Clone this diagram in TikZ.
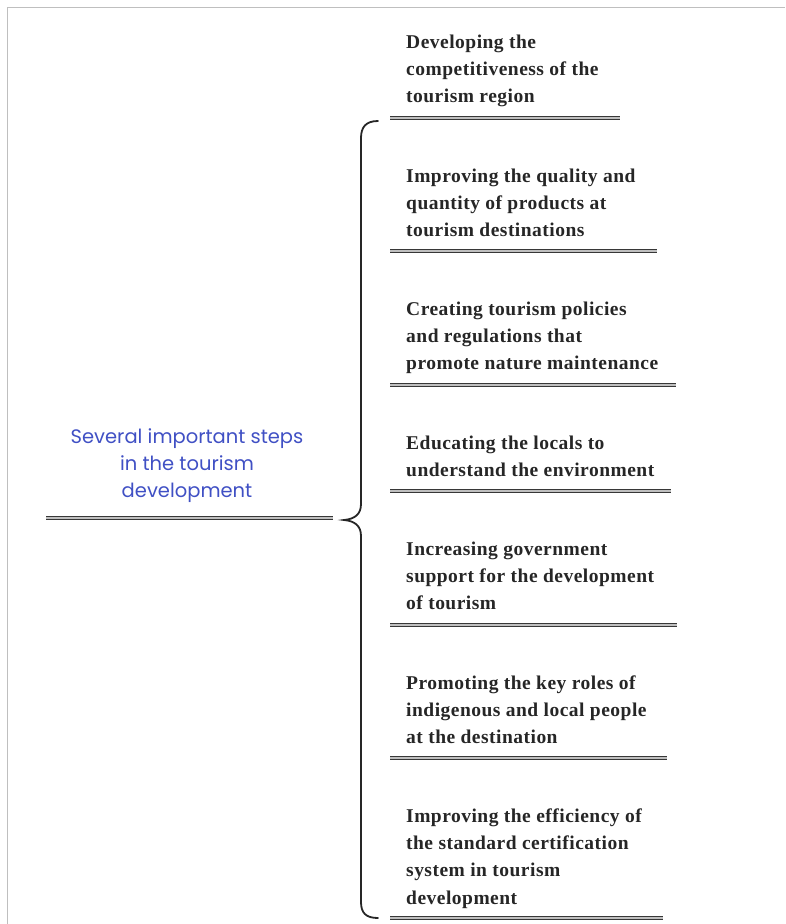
\documentclass[tikz,border=0pt]{standalone}
\usepackage{fontspec}
\newfontfamily\stepfont{Liberation Serif}[LetterSpace=2.5]
\newfontfamily\headfont{Poppins}
\definecolor{headblue}{RGB}{64,80,196}
\definecolor{rulegray}{RGB}{55,55,55}
\tikzset{
	stepnote/.style={anchor=north west, inner sep=0pt, align=left,
		font=\stepfont\bfseries\fontsize{19.5}{27.2}\selectfont, text=black!85},
	rule/.style={draw=rulegray, line width=1.5pt, double=gray!50, double distance=1.3pt},
}
\begin{document}
\begin{tikzpicture}[x=1pt, y=-1pt]
	\useasboundingbox (0,0) rectangle (785,924);
	\draw[gray!50, line width=1pt] (7.5,924)--(7.5,7.5)--(785,7.5);
	% left heading
	\node[anchor=north, inner sep=0pt, align=center, text=headblue,
		font=\headfont\fontsize{19.5}{27}\selectfont] (head) at (187,428)
		{Several important steps\\in the tourism\\development};
	\coordinate (head l) at (46,518);
	\coordinate (head r) at (333,518);
	\draw[rule] (head l)--(head r);
	% brace
	\coordinate (br top) at (378,121);
	\coordinate (br tip) at (344,520);
	\coordinate (br bot) at (378,918);
	\draw[line width=1.8pt, black!85, line cap=round]
		(br top) .. controls (366,121) and (361,127) .. (361,138)
		--(361,504) .. controls (361,514) and (355,519) .. (br tip)
		.. controls (355,521) and (361,526) .. (361,536)
		--(361,902) .. controls (361,913) and (366,918) .. (br bot);
	% steps
	\node[stepnote] (s1) at (406,34.5) {Developing the\\competitiveness of the\\tourism region};
	\node[stepnote] (s2) at (406,168.5) {Improving the quality and\\quantity of products at\\tourism destinations};
	\node[stepnote] (s3) at (406,301.5) {Creating tourism policies\\and regulations that\\promote nature maintenance};
	\node[stepnote] (s4) at (406,435.5) {Educating the locals to\\understand the environment};
	\node[stepnote] (s5) at (406,541.5) {Increasing government\\support for the development\\of tourism};
	\node[stepnote] (s6) at (406,675.5) {Promoting the key roles of\\indigenous and local people\\at the destination};
	\node[stepnote] (s7) at (406,808.5) {Improving the efficiency of\\the standard certification\\system in tourism\\development};
	% underlines
	\coordinate (u1) at (620,118);
	\coordinate (u2) at (657,251);
	\coordinate (u3) at (676,385);
	\coordinate (u4) at (671,491);
	\coordinate (u5) at (677,625);
	\coordinate (u6) at (667,758);
	\coordinate (u7) at (663,918);
	\draw[rule] (390,118)--(u1);
	\draw[rule] (390,251)--(u2);
	\draw[rule] (390,385)--(u3);
	\draw[rule] (390,491)--(u4);
	\draw[rule] (390,625)--(u5);
	\draw[rule] (390,758)--(u6);
	\draw[rule] (390,918)--(u7);
\end{tikzpicture}
\end{document}
